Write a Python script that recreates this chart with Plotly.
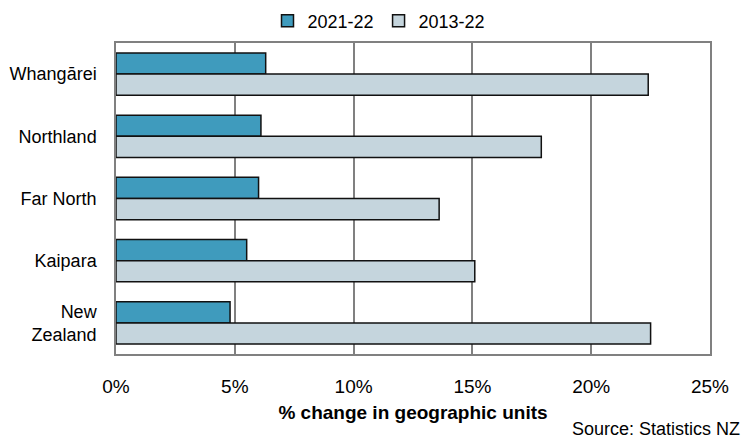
import plotly.graph_objects as go

categories = ["Whangārei", "Northland", "Far North", "Kaipara", "New<br>Zealand"]
series_names = ["2021-22", "2013-22"]
values_2021_22 = [6.3, 6.1, 6.0, 5.5, 4.8]
values_2013_22 = [22.4, 17.9, 13.6, 15.1, 22.5]
x_ticks = [0, 5, 10, 15, 20, 25]
x_tick_labels = ["0%", "5%", "10%", "15%", "20%", "25%"]

colors = ["#3F9BBD", "#C5D5DD"]

fig = go.Figure()
for name, vals, col in zip(series_names, [values_2021_22, values_2013_22], colors):
    fig.add_trace(go.Bar(
        y=categories, x=vals, name=name, orientation="h",
        marker=dict(color=col, line=dict(color="#111111", width=1.5)),
    ))

fig.update_layout(
    width=744, height=438,
    margin=dict(l=116, r=34, t=43, b=84, autoexpand=False),
    paper_bgcolor="white", plot_bgcolor="white",
    barmode="group", bargap=0.32, bargroupgap=0,
    font=dict(family="Liberation Sans, Arial, sans-serif", color="#000000", size=18),
    showlegend=True,
    legend=dict(orientation="h", x=(379-116)/594, xanchor="center",
                yref="container", y=1 - 21/438, yanchor="middle",
                font=dict(size=18), itemwidth=30, tracegroupgap=0, traceorder="normal"),
    xaxis=dict(range=[0, 25], tickvals=x_ticks, ticktext=x_tick_labels,
               showgrid=True, gridcolor="#808080", gridwidth=1.5,
               showline=True, linecolor="#808080", linewidth=1.5, mirror=True,
               zeroline=False, ticks="", ticklabelstandoff=14, automargin=False,
               tickfont=dict(size=19),
               title=dict(text="<b>% change in geographic units</b>", font=dict(size=19), standoff=10)),
    yaxis=dict(autorange="reversed", showgrid=False, automargin=False,
               showline=True, linecolor="#808080", linewidth=1.5, mirror=True,
               ticks="", ticklabelstandoff=14, tickfont=dict(size=18)),
    annotations=[dict(text="Source: Statistics NZ", xref="paper", yref="paper",
                      x=1 + 32/594, y=-(429-354)/311, xanchor="right", yanchor="middle",
                      showarrow=False, font=dict(size=18))],
)

fig.write_html("out.html")
